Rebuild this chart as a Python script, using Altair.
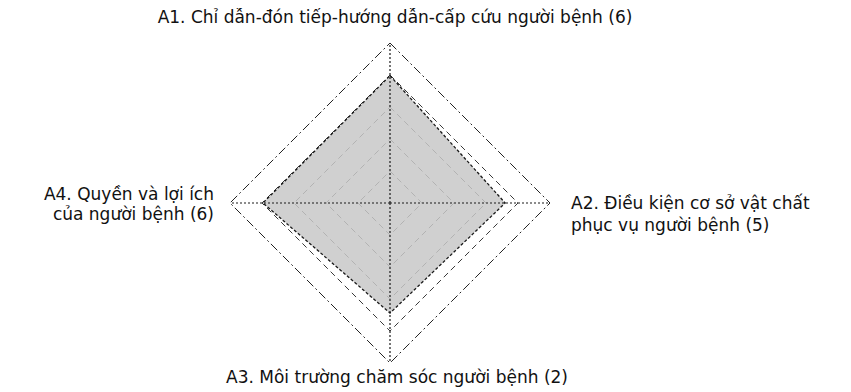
import altair as alt
import pandas as pd

# ---- data ----
categories = ["A1", "A2", "A3", "A4"]
label_lines = [
    ["A1. Chỉ dẫn-đón tiếp-hướng dẫn-cấp cứu người bệnh (6)"],
    ["A2. Điều kiện cơ sở vật chất", "\u00a0phục vụ người bệnh (5)"],
    ["A3. Môi trường chăm sóc người bệnh (2)"],
    ["A4. Quyền và lợi ích", "của người bệnh (6)"],
]
scores = [3.98, 3.6, 3.44, 3.97]
grid_levels = [1, 2, 3, 4, 5]
scale_max = 5

n = len(categories)
data_df = pd.DataFrame({"cat": categories, "idx": list(range(n)), "r": scores})
grid_df = pd.DataFrame(
    [{"level": lv, "idx": i, "r": lv} for lv in grid_levels for i in range(n)]
)
spoke_df = pd.DataFrame({"idx": list(range(n)), "r": [scale_max] * n})
label_df = pd.DataFrame(
    {"idx": list(range(n)), "r": [scale_max] * n, "text": label_lines}
)

W, H = 835, 384
unit = 32.0  # pixels per score unit
cx, cy = 382.0, 195.0
xdom = [-cx / unit, (W - cx) / unit]
ydom = [-(H - cy) / unit, cy / unit]

X = alt.X("x:Q", scale=alt.Scale(domain=xdom, nice=False, zero=False), axis=None)
Y = alt.Y("y:Q", scale=alt.Scale(domain=ydom, nice=False, zero=False), axis=None)


def polar(ch):
    return ch.transform_calculate(
        x="datum.r * sin(datum.idx * PI / 2)",
        y="datum.r * cos(datum.idx * PI / 2)",
    )


fill_layer = polar(alt.Chart(data_df)).mark_line(
    interpolate="linear-closed",
    fill="#c8c8c8",
    fillOpacity=0.85,
    stroke="#1a1a1a",
    strokeWidth=1.3,
    strokeDash=[3, 2],
).encode(x=X, y=Y, order="idx:Q")

grid_inner = polar(alt.Chart(grid_df)).transform_filter(
    f"datum.level < {scale_max}"
).mark_line(
    interpolate="linear-closed",
    stroke="#222222",
    strokeWidth=0.9,
    strokeDash=[6, 4],
).encode(x=X, y=Y, order="idx:Q", detail="level:N")

grid_outer = polar(alt.Chart(grid_df)).transform_filter(
    f"datum.level == {scale_max}"
).mark_line(
    interpolate="linear-closed",
    stroke="#222222",
    strokeWidth=1.0,
    strokeDash=[9, 3, 2, 3],
).encode(x=X, y=Y, order="idx:Q", detail="level:N")

spokes = polar(alt.Chart(spoke_df)).transform_calculate(
    x0="0", y0="0"
).mark_rule(stroke="#1a1a1a", strokeWidth=1.2, strokeDash=[2, 2]).encode(
    x=alt.X("x0:Q", scale=alt.Scale(domain=xdom, nice=False, zero=False), axis=None),
    y=alt.Y("y0:Q", scale=alt.Scale(domain=ydom, nice=False, zero=False), axis=None),
    x2="x:Q",
    y2="y:Q",
)

font = "DejaVu Sans"
fs = 17


def label(i, align, baseline, dx, dy, lh=21):
    return polar(alt.Chart(label_df)).transform_filter(
        f"datum.idx == {i}"
    ).mark_text(
        align=align,
        baseline=baseline,
        dx=dx,
        dy=dy,
        font=font,
        fontSize=fs,
        lineHeight=lh,
        color="#111111",
    ).encode(x=X, y=Y, text="text")


labels = [
    label(0, "center", "alphabetic", 5, -20),
    label(1, "left", "middle", 21, 1, 22),
    label(2, "center", "middle", 7, 15),
    label(3, "right", "middle", -16, -8, 20),
]

chart = alt.layer(
    grid_inner, fill_layer, grid_outer, spokes, *labels
).properties(
    width=W,
    height=H,
    autosize=alt.AutoSizeParams(type="none"),
    padding=0,
    background="white",
).configure_view(stroke=None)

chart.save("out.html", embed_options={"renderer": "svg", "actions": False})
